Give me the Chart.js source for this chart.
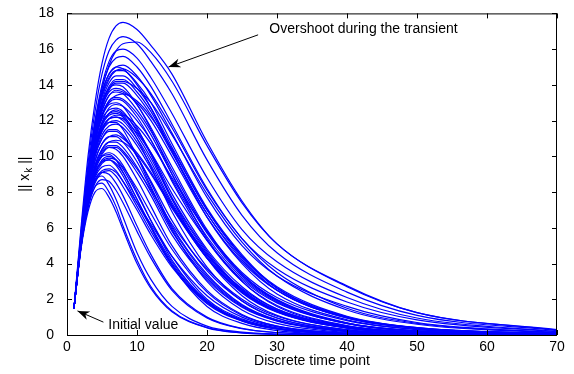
<!DOCTYPE html>
<html>
<head>
<meta charset="utf-8">
<script src="https://cdn.jsdelivr.net/npm/chart.js@4.4.1/dist/chart.umd.min.js"></script>
<style>
    html, body { margin: 0; padding: 0; background: #fff; }
</style>
</head>
<body>
<canvas id="normChart" width="574" height="374"></canvas>
<script>
// Discrete time points where each trajectory is sampled
const timePoints = [1, 2, 3, 4, 5, 6, 7, 8, 10, 12, 15, 20, 25, 30, 40, 50, 70];

// ||x_k|| for each trajectory (one row per curve)
const trajectories = [
    [1.5, 4.8, 6.9, 8.0, 8.2, 7.7, 6.9, 5.9, 4.0, 2.6, 1.3, 0.4, 0.12, 0.04, 0.01, 0, 0],
    [1.5, 4.9, 7.2, 8.3, 8.5, 8.0, 7.2, 6.1, 4.2, 2.7, 1.35, 0.42, 0.12, 0.04, 0.01, 0, 0],
    [1.5, 5.0, 7.4, 8.6, 8.9, 8.4, 7.6, 6.6, 4.6, 3.1, 1.6, 0.5, 0.16, 0.05, 0.01, 0, 0],
    [1.5, 4.9, 7.1, 8.3, 8.7, 8.6, 8.1, 7.4, 5.8, 4.3, 2.5, 0.95, 0.35, 0.13, 0.02, 0, 0],
    [1.5, 5.0, 7.4, 8.7, 9.1, 9.0, 8.5, 7.8, 6.1, 4.5, 2.6, 1.0, 0.37, 0.14, 0.02, 0, 0],

    [1.5, 4.9, 7.2, 8.5, 9.1, 9.2, 8.9, 8.3, 7.0, 5.6, 3.8, 1.75, 0.78, 0.34, 0.06, 0.01, 0],
    [1.5, 5.0, 7.4, 8.8, 9.4, 9.5, 9.2, 8.6, 7.2, 5.8, 3.9, 1.8, 0.8, 0.35, 0.06, 0.01, 0],
    [1.5, 5.1, 7.6, 9.1, 9.7, 9.8, 9.5, 8.9, 7.4, 6.0, 4.0, 1.85, 0.82, 0.36, 0.06, 0.01, 0],
    [1.5, 5.2, 7.8, 9.3, 10.0, 10.1, 9.8, 9.1, 7.6, 6.1, 4.1, 1.9, 0.85, 0.37, 0.06, 0.01, 0],
    [1.5, 5.0, 7.5, 9.0, 9.7, 9.9, 9.8, 9.4, 8.2, 6.8, 4.8, 2.4, 1.1, 0.5, 0.1, 0.02, 0],
    [1.5, 4.9, 7.3, 8.6, 9.2, 9.3, 9.1, 8.6, 7.4, 6.2, 4.4, 2.2, 1.0, 0.45, 0.08, 0.02, 0],
    [1.5, 5.0, 7.5, 9.0, 9.8, 10.0, 9.8, 9.3, 7.9, 6.4, 4.4, 2.0, 0.9, 0.4, 0.07, 0.01, 0],
    [1.5, 5.0, 7.4, 8.9, 9.6, 9.8, 9.6, 9.1, 7.6, 6.0, 3.9, 1.6, 0.65, 0.25, 0.03, 0, 0],

    [1.5, 5.0, 7.6, 9.2, 10.1, 10.5, 10.5, 10.2, 9.1, 7.8, 5.6, 3.1, 1.55, 0.78, 0.19, 0.05, 0],
    [1.5, 5.1, 7.8, 9.5, 10.4, 10.8, 10.8, 10.5, 9.4, 8.0, 5.8, 3.2, 1.6, 0.8, 0.2, 0.05, 0],
    [1.5, 5.2, 8.0, 9.8, 10.7, 11.1, 11.1, 10.8, 9.7, 8.2, 6.0, 3.3, 1.65, 0.82, 0.21, 0.05, 0],
    [1.5, 5.3, 8.3, 10.1, 11.0, 11.4, 11.4, 11.1, 10.0, 8.5, 6.1, 3.4, 1.7, 0.85, 0.21, 0.05, 0],
    [1.5, 5.1, 7.8, 9.5, 10.4, 10.8, 10.9, 10.8, 10.1, 9.0, 7.1, 4.3, 2.4, 1.3, 0.4, 0.13, 0.01],
    [1.5, 5.0, 7.6, 9.2, 10.0, 10.2, 10.0, 9.5, 8.0, 6.4, 4.2, 1.9, 0.8, 0.33, 0.05, 0.01, 0],
    [1.5, 5.1, 7.7, 9.4, 10.3, 10.6, 10.6, 10.3, 9.3, 8.1, 6.2, 3.7, 2.0, 1.05, 0.3, 0.09, 0.01],
    [1.5, 5.2, 8.0, 9.7, 10.7, 11.1, 11.2, 11.0, 10.2, 9.1, 7.2, 4.5, 2.6, 1.45, 0.48, 0.16, 0.02],
    [1.5, 5.2, 8.1, 10.0, 11.0, 11.5, 11.5, 11.2, 10.0, 8.6, 6.4, 3.6, 1.9, 0.95, 0.25, 0.07, 0.01],
    [1.5, 5.1, 7.7, 9.3, 10.2, 10.5, 10.4, 10.0, 8.7, 7.2, 5.0, 2.5, 1.15, 0.5, 0.1, 0.02, 0],

    [1.5, 5.1, 8.0, 10.0, 11.2, 11.7, 11.8, 11.6, 10.6, 9.3, 7.2, 4.3, 2.35, 1.27, 0.39, 0.12, 0.01],
    [1.5, 5.2, 8.2, 10.2, 11.4, 11.9, 12.0, 11.8, 10.8, 9.5, 7.3, 4.4, 2.4, 1.3, 0.4, 0.12, 0.01],
    [1.5, 5.3, 8.4, 10.4, 11.6, 12.1, 12.2, 12.0, 11.0, 9.7, 7.4, 4.5, 2.45, 1.33, 0.41, 0.12, 0.01],
    [1.5, 5.4, 8.5, 10.6, 11.9, 12.4, 12.5, 12.3, 11.2, 9.9, 7.6, 4.6, 2.5, 1.35, 0.42, 0.12, 0.01],
    [1.5, 5.5, 8.7, 10.8, 12.1, 12.6, 12.7, 12.5, 11.4, 10.1, 7.7, 4.7, 2.55, 1.38, 0.42, 0.13, 0.01],
    [1.5, 5.2, 8.2, 10.2, 11.4, 11.9, 11.9, 11.5, 10.0, 8.3, 5.9, 3.0, 1.4, 0.65, 0.14, 0.03, 0],
    [1.5, 5.2, 8.2, 10.2, 11.5, 12.1, 12.3, 12.3, 11.7, 10.7, 8.8, 5.8, 3.5, 2.1, 0.8, 0.3, 0.04],
    [1.5, 5.3, 8.3, 10.3, 11.5, 12.1, 12.2, 12.1, 11.3, 10.2, 8.2, 5.3, 3.1, 1.8, 0.65, 0.23, 0.03],
    [1.5, 5.3, 8.4, 10.5, 11.8, 12.4, 12.6, 12.4, 11.5, 10.2, 7.9, 4.8, 2.7, 1.45, 0.45, 0.14, 0.02],
    [1.5, 5.3, 8.3, 10.4, 11.7, 12.3, 12.4, 12.2, 11.0, 9.4, 6.9, 3.8, 1.9, 0.95, 0.24, 0.06, 0.01],

    [1.5, 5.2, 8.2, 10.5, 11.9, 12.7, 12.9, 12.8, 12.0, 10.9, 8.7, 5.5, 3.2, 1.85, 0.63, 0.21, 0.03],
    [1.5, 5.3, 8.5, 10.8, 12.3, 13.1, 13.3, 13.2, 12.4, 11.2, 9.0, 5.7, 3.3, 1.9, 0.65, 0.22, 0.03],
    [1.5, 5.4, 8.7, 11.0, 12.5, 13.4, 13.6, 13.5, 12.6, 11.4, 9.2, 5.8, 3.4, 1.94, 0.66, 0.22, 0.03],
    [1.5, 5.5, 8.8, 11.2, 12.8, 13.6, 13.8, 13.7, 12.9, 11.6, 9.4, 5.9, 3.4, 1.98, 0.68, 0.23, 0.03],
    [1.5, 5.3, 8.5, 10.8, 12.2, 12.9, 13.0, 12.8, 11.6, 10.1, 7.6, 4.3, 2.2, 1.1, 0.3, 0.08, 0.01],
    [1.5, 5.3, 8.5, 10.8, 12.3, 13.1, 13.4, 13.5, 13.1, 12.2, 10.4, 7.0, 4.4, 2.7, 1.05, 0.42, 0.07],
    [1.5, 5.4, 8.6, 10.9, 12.3, 13.0, 13.2, 13.1, 12.2, 10.9, 8.6, 5.3, 3.0, 1.65, 0.52, 0.17, 0.02],
    [1.5, 5.4, 8.7, 11.1, 12.6, 13.4, 13.7, 13.6, 13.0, 12.0, 10.0, 6.6, 4.1, 2.5, 0.95, 0.37, 0.05],

    [1.5, 5.3, 8.6, 11.1, 12.7, 13.7, 14.1, 14.1, 13.4, 12.3, 10.2, 6.8, 4.3, 2.5, 0.97, 0.39, 0.06],
    [1.5, 5.4, 8.8, 11.4, 13.1, 14.1, 14.5, 14.5, 13.8, 12.7, 10.5, 7.0, 4.4, 2.6, 1.0, 0.4, 0.06],
    [1.5, 5.5, 9.0, 11.6, 13.4, 14.4, 14.8, 14.8, 14.1, 13.0, 10.7, 7.1, 4.5, 2.65, 1.02, 0.41, 0.06],
    [1.5, 5.4, 8.7, 11.2, 12.9, 13.8, 14.2, 14.2, 13.8, 13.0, 11.2, 7.9, 5.2, 3.3, 1.4, 0.6, 0.1],
    [1.5, 5.4, 8.8, 11.3, 12.9, 13.8, 14.0, 13.9, 12.9, 11.5, 9.0, 5.4, 3.0, 1.6, 0.5, 0.15, 0.02],
    [1.5, 5.5, 8.9, 11.4, 13.0, 13.9, 14.3, 14.3, 13.6, 12.5, 10.3, 6.8, 4.2, 2.5, 0.95, 0.37, 0.05],
    [1.5, 5.5, 9.0, 11.6, 13.3, 14.3, 14.8, 14.9, 14.4, 13.5, 11.6, 8.1, 5.4, 3.5, 1.5, 0.65, 0.12],
    [1.5, 5.6, 9.1, 11.8, 13.6, 14.6, 15.0, 14.9, 14.0, 12.7, 10.3, 6.6, 4.0, 2.3, 0.85, 0.32, 0.04],

    [1.5, 6.0, 10.0, 13.0, 15.2, 16.6, 17.3, 17.5, 17.1, 16.2, 14.6, 10.8, 7.5, 5.1, 2.75, 1.25, 0.3],
    [1.5, 5.8, 9.6, 12.5, 14.6, 15.9, 16.5, 16.7, 16.3, 15.3, 13.5, 9.8, 6.7, 4.6, 2.4, 1.1, 0.25],
    [1.5, 5.5, 9.0, 11.8, 13.8, 15.1, 15.9, 16.3, 16.4, 15.8, 14.2, 10.6, 7.4, 5.1, 2.7, 1.25, 0.28],
    [1.5, 5.6, 9.2, 12.0, 14.0, 15.3, 15.9, 16.0, 15.5, 14.4, 12.4, 8.8, 5.9, 4.1, 2.1, 0.95, 0.2],
    [1.5, 5.5, 9.1, 11.9, 13.8, 15.0, 15.5, 15.6, 15.0, 13.9, 11.8, 8.2, 5.4, 3.7, 1.85, 0.85, 0.18],
    [1.5, 5.5, 9.0, 11.7, 13.5, 14.6, 15.0, 15.1, 14.5, 13.4, 11.3, 7.7, 5.0, 3.3, 1.6, 0.7, 0.14]
];

// Axis tick labels
const xTicks = [0, 10, 20, 30, 40, 50, 60, 70];
const yTicks = [0, 2, 4, 6, 8, 10, 12, 14, 16, 18];

// Text callouts in data coordinates
const callouts = [
    { text: 'Overshoot during the transient', textAt: [28.9, 17.1], from: [27.3, 16.8], to: [14.5, 15.0] },
    { text: 'Initial value', textAt: [5.9, 0.55], from: [5.2, 0.72], to: [1.5, 1.35] }
];

const FONT = '"Liberation Sans", Arial, Helvetica, sans-serif';
Chart.defaults.font.family = FONT;
Chart.defaults.font.size = 14;
Chart.defaults.color = '#000';

// Box around the axes with inward ticks (MATLAB look)
const boxFrame = {
    id: 'boxFrame',
    afterDatasetsDraw(chart) {
        const { ctx, chartArea: a, scales: { x, y } } = chart;
        ctx.save();
        ctx.strokeStyle = '#000';
        ctx.lineWidth = 1;
        ctx.strokeRect(a.left + 0.5, a.top + 0.5, a.right - a.left - 1, a.bottom - a.top);
        ctx.beginPath();
        xTicks.forEach(t => {
            const px = Math.round(x.getPixelForValue(t)) + 0.5;
            ctx.moveTo(px, a.bottom); ctx.lineTo(px, a.bottom - 5);
            ctx.moveTo(px, a.top); ctx.lineTo(px, a.top + 5);
        });
        yTicks.forEach(t => {
            const py = Math.round(y.getPixelForValue(t)) + 0.5;
            ctx.moveTo(a.left, py); ctx.lineTo(a.left + 5, py);
            ctx.moveTo(a.right, py); ctx.lineTo(a.right - 5, py);
        });
        ctx.stroke();
        ctx.restore();
    }
};

// y label with subscript k, plus the arrow callouts
const labels = {
    id: 'labels',
    afterDraw(chart) {
        const { ctx, chartArea: a, scales: { x, y } } = chart;
        ctx.save();
        ctx.fillStyle = '#000';
        ctx.strokeStyle = '#000';

        // ||x_k||
        ctx.translate(25, (a.top + a.bottom) / 2);
        ctx.rotate(-Math.PI / 2);
        ctx.textBaseline = 'middle';
        const big = '14px ' + FONT, small = '10px ' + FONT;
        ctx.font = big;
        const w1 = ctx.measureText('|| x').width, w3 = ctx.measureText(' ||').width;
        ctx.font = small;
        const w2 = ctx.measureText('k').width;
        let cx = -(w1 + w2 + w3 + 1) / 2;
        ctx.font = big; ctx.fillText('|| x', cx, 0); cx += w1 + 1;
        ctx.font = small; ctx.fillText('k', cx, 4); cx += w2;
        ctx.font = big; ctx.fillText(' ||', cx, 0);
        ctx.setTransform(1, 0, 0, 1, 0, 0);

        // callouts
        ctx.font = '14px ' + FONT;
        ctx.textBaseline = 'middle';
        ctx.lineWidth = 1;
        callouts.forEach(c => {
            ctx.fillText(c.text, x.getPixelForValue(c.textAt[0]), y.getPixelForValue(c.textAt[1]));
            const x0 = x.getPixelForValue(c.from[0]), y0 = y.getPixelForValue(c.from[1]);
            const x1 = x.getPixelForValue(c.to[0]), y1 = y.getPixelForValue(c.to[1]);
            ctx.beginPath(); ctx.moveTo(x0, y0); ctx.lineTo(x1, y1); ctx.stroke();
            const ang = Math.atan2(y1 - y0, x1 - x0);
            ctx.save();
            ctx.translate(x1, y1); ctx.rotate(ang);
            ctx.beginPath();
            ctx.moveTo(0, 0); ctx.lineTo(-12, -4.5); ctx.lineTo(-8.5, 0); ctx.lineTo(-12, 4.5);
            ctx.closePath(); ctx.fill();
            ctx.restore();
        });
        ctx.restore();
    }
};

new Chart(document.getElementById('normChart'), {
    type: 'line',
    data: {
        datasets: trajectories.map(vals => ({
            data: vals.map((v, i) => ({ x: timePoints[i], y: v })),
            borderColor: '#0000ff',
            borderWidth: 1.2,
            pointRadius: 0,
            fill: false,
            cubicInterpolationMode: 'monotone'
        }))
    },
    options: {
        responsive: false,
        animation: false,
        events: [],
        layout: { padding: { top: 7, right: 17, left: 0, bottom: 0 } },
        scales: {
            x: {
                type: 'linear', min: 0, max: 70,
                afterFit: (s) => { s.height = 39; },
                afterBuildTicks: (s) => { s.ticks = xTicks.map(v => ({ value: v })); },
                grid: { display: false },
                border: { display: false },
                ticks: { padding: -4, color: '#000' },
                title: { display: true, text: 'Discrete time point', color: '#000', padding: { top: 0, bottom: 4 } }
            },
            y: {
                type: 'linear', min: 0, max: 18,
                afterFit: (s) => { s.width = 67; },
                afterBuildTicks: (s) => { s.ticks = yTicks.map(v => ({ value: v })); },
                grid: { display: false },
                border: { display: false },
                ticks: { padding: 5, color: '#000' }
            }
        },
        plugins: {
            legend: { display: false },
            tooltip: { enabled: false }
        }
    },
    plugins: [boxFrame, labels]
});
</script>
</body>
</html>
